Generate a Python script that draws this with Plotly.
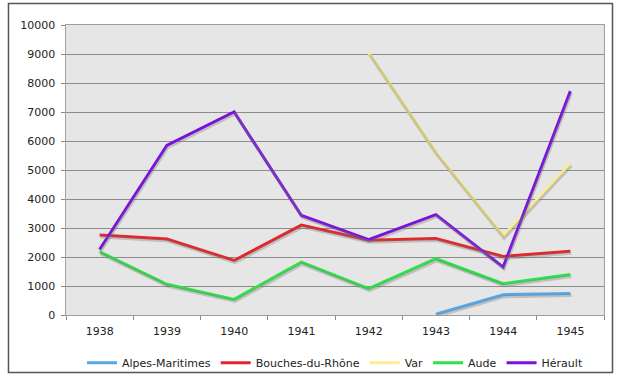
import plotly.graph_objects as go

years = ["1938", "1939", "1940", "1941", "1942", "1943", "1944", "1945"]
alpes_maritimes = [None, None, None, None, None, 30, 700, 740]
bouches_du_rhone = [2760, 2620, 1880, 3100, 2580, 2640, 2020, 2200]
var = [None, None, None, None, 9050, 5600, 2720, 5220]
aude = [2180, 1060, 540, 1820, 910, 1940, 1080, 1400]
herault = [2260, 5850, 7000, 3430, 2600, 3460, 1650, 7720]

series = [
    ("Alpes-Maritimes", alpes_maritimes, "#55A7E6"),
    ("Bouches-du-Rhône", bouches_du_rhone, "#E3262A"),
    ("Var", var, "#FCEE8E"),
    ("Aude", aude, "#2EE04A"),
    ("Hérault", herault, "#7A0FE0"),
]

fig = go.Figure()

# shadows (drawn on an overlaying axis pair shifted by a couple of pixels)
for name, vals, col in series:
    fig.add_trace(go.Scatter(x=years, y=vals, mode="lines", xaxis="x2", yaxis="y2",
                             line=dict(color="rgba(120,120,120,0.35)", width=3),
                             showlegend=False, hoverinfo="skip"))

for name, vals, col in series:
    fig.add_trace(go.Scatter(x=years, y=vals, mode="lines", name=name,
                             line=dict(color=col, width=3)))

font = dict(family="DejaVu Sans, Verdana, sans-serif", size=11, color="#222222")

fig.update_layout(
    width=617, height=376,
    margin=dict(l=66, r=13, t=25, b=61, autoexpand=False),
    paper_bgcolor="white",
    plot_bgcolor="#E6E6E6",
    font=font,
    xaxis=dict(type="category", range=[-0.5, 7.5], tickson="boundaries",
               ticks="outside", ticklen=4, tickcolor="#888888",
               showgrid=False, showline=True, linecolor="#A0A0A0", mirror=True,
               zeroline=False, tickfont=font, ticklabelstandoff=6),
    yaxis=dict(range=[0, 10000], dtick=1000, tickformat="d", ticks="outside", ticklen=4,
               tickcolor="#888888", gridcolor="#8C8C8C", gridwidth=1,
               showline=True, linecolor="#A0A0A0", mirror=True, zeroline=False,
               tickfont=font, ticksuffix=" "),
    xaxis2=dict(type="category", overlaying="x", range=[-0.515, 7.485],
                visible=False, showgrid=False),
    yaxis2=dict(overlaying="y", range=[70, 10070], visible=False, showgrid=False),
    legend=dict(orientation="h", x=0.5, xanchor="center", y=-0.115, yanchor="top",
                font=dict(family="DejaVu Sans, Verdana, sans-serif", size=11, color="#222222"),
                itemwidth=30, tracegroupgap=0, bgcolor="rgba(0,0,0,0)"),
    showlegend=True,
    shapes=[
        dict(type="rect", xref="paper", yref="paper",
             x0=-0.1069, x1=1.0158, y0=-0.1983, y1=1.0741,
             line=dict(color="#555555", width=1.5), layer="above"),
    ],
)

fig.write_html("out.html", config={"displayModeBar": False},
               post_script="document.body.style.margin='0';document.body.style.padding='0';document.body.style.overflow='hidden';")
